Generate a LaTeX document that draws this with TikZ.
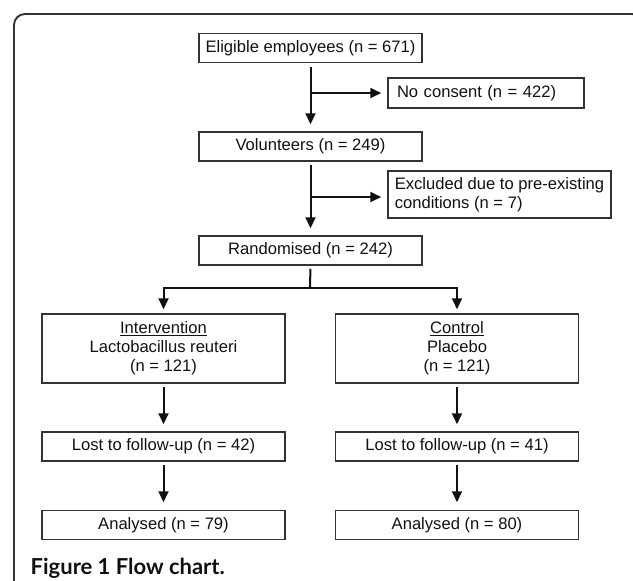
\documentclass[tikz,border=0pt]{standalone}
\usepackage{fontspec}
\setmainfont{Liberation Sans}
\newfontfamily\capfont{Lato}
\usetikzlibrary{arrows.meta}
\definecolor{ink}{HTML}{111111}
\definecolor{edge}{HTML}{333333}
\definecolor{framec}{HTML}{333333}
\tikzset{
  box/.style={draw=edge, line width=1.5pt, inner sep=0pt, text=ink,
    font=\fontsize{16.6pt}{19pt}\selectfont, align=center},
  wide/.style={box, minimum width=223pt, minimum height=29pt},
  col/.style={box, minimum width=243pt, minimum height=29pt},
  side/.style={box, inner xsep=9pt, align=left},
  flow/.style={draw=ink, line width=2pt,
    -{Triangle[length=11pt,width=10pt]}},
  plain/.style={draw=ink, line width=2pt},
}
\begin{document}
\begin{tikzpicture}[x=1pt,y=-1pt]
\useasboundingbox (0,0) rectangle (633,581);
\begin{scope}
\clip (0,0) rectangle (633,581);
\draw[framec, line width=1.9pt, rounded corners=11pt] (14,14) rectangle (643,620);
\end{scope}
% main column
\node[wide] (elig) at (310.5,48) {Eligible employees (n = 671)};
\node[side, text width=178pt, minimum height=30pt] (nocons) at (486,93) {No consent (n = 422)};
\node[wide] (vol) at (310.5,146.5) {Volunteers (n = 249)};
\node[box, align=left, minimum width=223pt, minimum height=47pt] (excl) at (499.5,194.5) {Excluded due to pre-existing\\conditions (n = 7)};
\node[wide] (rand) at (310.5,250.5) {Randomised (n = 242)};
% arms
\node[col, minimum height=69pt] (int) at (163.5,348.5) {\underline{Intervention}\\Lactobacillus reuteri\\(n = 121)};
\node[col, minimum height=69pt] (ctl) at (457,348.5) {\underline{Control}\\Placebo\\(n = 121)};
\node[col] (lost1) at (163.5,446.5) {Lost to follow-up (n = 42)};
\node[col] (lost2) at (457,446.5) {Lost to follow-up (n = 41)};
\node[col] (an1) at (163.5,525) {Analysed (n = 79)};
\node[col] (an2) at (457,525) {Analysed (n = 80)};
% connectors
\draw[flow, shorten <=4pt, shorten >=7pt] (elig.south) -- (vol.north);
\coordinate (b1) at (310,93);
\draw[flow, shorten >=6pt] (b1) -- (b1 -| nocons.west);
\draw[flow, shorten <=3pt, shorten >=7pt] (vol.south) -- (rand.north);
\coordinate (b2) at (310,197);
\draw[flow, shorten >=6pt] (b2) -- (b2 -| excl.west);
\coordinate (split) at (310,288);
\draw[plain, shorten <=3pt] (rand.south) -- (split);
\draw[flow, shorten >=4pt, line join=miter] (split) -| (int.north);
\draw[flow, shorten >=4pt, line join=miter] (split) -| (ctl.north);
\draw[flow, shorten <=3.5pt, shorten >=7pt] (int.south) -- (lost1.north);
\draw[flow, shorten <=3.5pt, shorten >=7pt] (ctl.south) -- (lost2.north);
\draw[flow, shorten <=3pt, shorten >=7.5pt] (lost1.south) -- (an1.north);
\draw[flow, shorten <=3pt, shorten >=7.5pt] (lost2.south) -- (an2.north);
% caption
\node[anchor=base west, inner sep=0pt, text=ink, font=\capfont\bfseries\fontsize{22pt}{26pt}\selectfont] (cap) at (30.5,574) {Figure 1 Flow chart.};
\end{tikzpicture}
\end{document}
